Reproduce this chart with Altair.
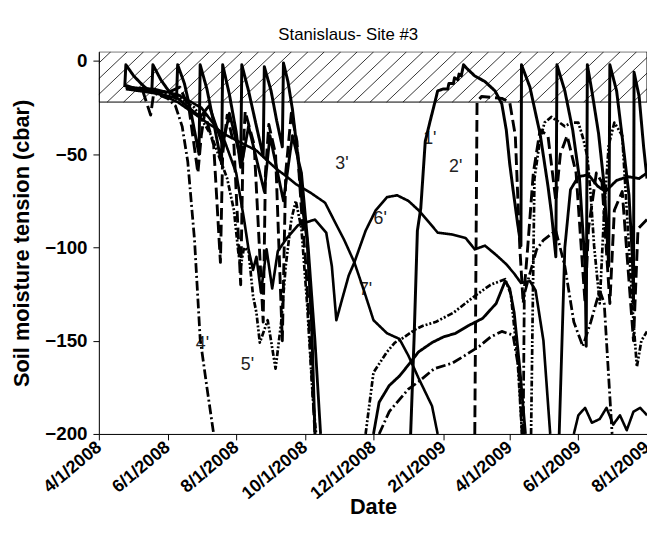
import altair as alt
import pandas as pd

# ---- series readings (date, cbar); None = gap in the record ----
s1 = [("2008-04-24",-14),("2008-04-25",-2),("2008-05-02",-8),("2008-05-10",-13),("2008-05-18",-17),
      ("2008-05-19",-2),("2008-05-26",-10),("2008-06-02",-16),("2008-06-09",-20),
      ("2008-06-10",-2),("2008-06-16",-12),("2008-06-22",-28),("2008-06-29",-50),
      ("2008-06-30",-2),("2008-07-06",-15),("2008-07-12",-33),("2008-07-19",-55),
      ("2008-07-20",-2),("2008-07-26",-18),("2008-08-01",-38),("2008-08-05",-57),
      ("2008-08-06",-2),("2008-08-12",-16),("2008-08-19",-35),("2008-08-25",-51),
      ("2008-08-26",-3),("2008-09-01",-16),("2008-09-06",-32),("2008-09-11",-46),
      ("2008-09-12",-1),("2008-09-16",-11),("2008-09-20",-26),("2008-09-25",-52),("2008-09-29",-79),
      ("2008-10-03",-96),("2008-10-07",-140),("2008-10-10",-200),
      None,
      ("2009-01-03",-200),("2009-01-06",-150),("2009-01-09",-91),("2009-01-12",-79),("2009-01-16",-43),
      ("2009-01-20",-33),("2009-01-25",-21),("2009-01-27",-16),("2009-02-01",-15),("2009-02-05",-15),
      ("2009-02-06",-12),("2009-02-10",-12),("2009-02-11",-9),("2009-02-14",-10),("2009-02-15",-7),
      ("2009-02-17",-8),("2009-02-19",-2),("2009-02-22",-4),("2009-03-01",-8),("2009-03-10",-11),
      ("2009-03-19",-16),("2009-03-25",-23),("2009-03-29",-37),("2009-04-01",-55),("2009-04-04",-69),
      ("2009-04-08",-87),("2009-04-11",-99),
      ("2009-04-11 12:00",-2),("2009-04-19",-14),("2009-04-24",-28),("2009-04-28",-39),("2009-05-01",-51),
      ("2009-05-05",-67),("2009-05-08",-81),("2009-05-12",-105),
      ("2009-05-13",-2),("2009-05-20",-16),("2009-05-27",-37),("2009-06-02",-63),("2009-06-07",-110),("2009-06-08",-153),
      ("2009-06-09",-2),("2009-06-13",-16),("2009-06-19",-39),("2009-06-24",-67),("2009-06-28",-110),
      ("2009-06-29",-2),("2009-07-05",-16),("2009-07-11",-46),("2009-07-16",-72),("2009-07-19",-105),("2009-07-20",-130),
      ("2009-07-20 12:00",-6),("2009-07-25",-19),("2009-07-29",-46),("2009-08-01",-63)]

s2 = [("2008-04-25",-13),("2008-05-10",-16),("2008-05-17",-29),("2008-05-20",-16),("2008-06-01",-17),
      ("2008-06-12",-14),("2008-06-20",-25),("2008-06-28",-60),("2008-07-01",-40),("2008-07-04",-28),
      ("2008-07-12",-45),("2008-07-18",-108),("2008-07-20",-50),("2008-07-24",-29),("2008-07-30",-45),
      ("2008-08-05",-120),("2008-08-07",-50),("2008-08-09",-27),("2008-08-17",-45),("2008-08-25",-140),
      ("2008-08-27",-60),("2008-08-30",-34),("2008-09-05",-50),("2008-09-11",-150),("2008-09-14",-60),
      ("2008-09-19",-28),("2008-09-24",-43),("2008-09-28",-80),("2008-10-02",-110),("2008-10-10",-200),
      None,
      ("2009-03-01",-200),("2009-03-03",-22),("2009-03-07",-19),("2009-03-25",-20),("2009-04-01",-22),
      ("2009-04-06",-40),("2009-04-10",-100),("2009-04-13",-130),("2009-04-17",-100),("2009-04-22",-60),
      ("2009-04-28",-37),("2009-05-05",-40),("2009-05-12",-75),("2009-05-16",-50),("2009-05-22",-40),
      ("2009-05-30",-60),("2009-06-07",-130),("2009-06-10",-90),("2009-06-17",-60),("2009-06-22",-65),
      ("2009-06-29",-130),("2009-07-03",-80),("2009-07-10",-70),("2009-07-20",-150),("2009-07-24",-90),
      ("2009-08-01",-85)]

s3 = [("2008-04-25",-15),("2008-05-19",-17),("2008-06-10",-20),("2008-06-30",-30),("2008-07-08",-24),
      ("2008-07-20",-45),("2008-07-26",-28),("2008-08-06",-55),("2008-08-12",-35),("2008-08-26",-70),
      ("2008-08-31",-40),("2008-09-12",-75),("2008-09-20",-40),("2008-09-28",-60),("2008-10-04",-100),
      ("2008-10-10",-150),("2008-10-15",-200),
      None,
      ("2008-12-01",-200),("2008-12-06",-183),("2008-12-15",-174),("2008-12-24",-169),("2009-01-01",-163),
      ("2009-01-10",-156),("2009-01-22",-151),("2009-02-01",-148),("2009-02-12",-146),("2009-02-23",-142),
      ("2009-03-08",-138),("2009-03-20",-130),("2009-03-28",-118),("2009-04-01",-122),("2009-04-05",-135),
      ("2009-04-10",-165),("2009-04-15",-200),
      None,
      ("2009-05-15",-200),("2009-05-20",-100),("2009-05-25",-69),("2009-06-01",-62),("2009-06-10",-61),
      ("2009-06-18",-67),("2009-06-25",-70),("2009-07-05",-64),("2009-07-15",-62),("2009-07-25",-63),
      ("2009-08-01",-60)]

s4 = [("2008-04-25",-14),("2008-05-15",-16),("2008-06-01",-20),("2008-06-08",-24),("2008-06-14",-35),
      ("2008-06-19",-54),("2008-06-25",-96),("2008-06-30",-149),("2008-07-06",-175),("2008-07-12",-200),
      None,
      ("2008-12-06",-200),("2008-12-15",-188),("2009-01-01",-176),("2009-01-10",-172),("2009-01-24",-165),
      ("2009-02-09",-162),("2009-02-20",-158),("2009-03-05",-153),("2009-03-15",-148),("2009-03-25",-145),
      ("2009-04-04",-147),("2009-04-09",-165),("2009-04-12",-200),
      None,
      ("2009-04-13",-200),("2009-04-14",-125),("2009-04-18",-116),("2009-04-25",-101),("2009-05-01",-96),
      ("2009-05-12",-91),("2009-05-20",-110),("2009-05-28",-140),("2009-06-05",-153),("2009-06-12",-140),
      ("2009-06-20",-123),("2009-06-24",-130),("2009-06-28",-170),("2009-07-01",-200)]

s5 = [("2008-04-25",-14),("2008-05-20",-16),("2008-06-10",-19),("2008-06-25",-25),("2008-07-10",-40),
      ("2008-07-24",-63),("2008-07-30",-80),("2008-08-03",-103),("2008-08-05",-110),("2008-08-08",-100),
      ("2008-08-12",-102),("2008-08-16",-126),("2008-08-19",-135),("2008-08-22",-151),("2008-08-29",-139),
      ("2008-09-05",-165),("2008-09-10",-140),("2008-09-14",-110),("2008-09-19",-85),("2008-09-23",-75),
      ("2008-09-28",-90),("2008-10-03",-130),("2008-10-08",-180),("2008-10-11",-200),
      None,
      ("2008-11-24",-200),("2008-12-01",-167),("2008-12-13",-156),("2008-12-20",-151),("2008-12-26",-149),
      ("2009-01-07",-144),("2009-01-14",-142),("2009-01-25",-140),("2009-02-10",-135),("2009-03-01",-126),
      ("2009-03-15",-120),("2009-03-28",-117),("2009-04-02",-125),("2009-04-08",-160),("2009-04-12",-200),
      None,
      ("2009-04-20",-200),("2009-04-23",-63),("2009-04-28",-42),("2009-05-02",-33),("2009-05-08",-30),
      ("2009-05-13",-32),("2009-05-20",-35),("2009-05-26",-33),("2009-06-01",-33),("2009-06-05",-41),
      ("2009-06-09",-51),("2009-06-12",-72),("2009-06-15",-99),("2009-06-20",-130),("2009-06-24",-80),
      ("2009-06-28",-45),("2009-07-03",-33),("2009-07-10",-40),("2009-07-15",-90),("2009-07-20",-140),
      ("2009-07-23",-164),("2009-07-27",-150),("2009-08-01",-145)]

s6 = [("2008-04-25",-14),("2008-05-20",-15),("2008-06-10",-18),("2008-07-01",-25),("2008-07-20",-40),
      ("2008-08-01",-60),("2008-08-08",-85),("2008-08-12",-101),("2008-08-16",-112),("2008-08-19",-105),
      ("2008-08-23",-124),("2008-08-28",-101),("2008-09-02",-122),("2008-09-07",-102),("2008-09-15",-95),
      ("2008-09-25",-88),("2008-10-10",-85),("2008-10-20",-92),("2008-10-25",-110),("2008-10-29",-139),
      ("2008-11-03",-128),("2008-11-09",-115),("2008-11-14",-108),("2008-11-24",-91),("2008-12-03",-80),
      ("2008-12-13",-73),("2008-12-22",-72),("2009-01-01",-75),("2009-01-10",-80),("2009-01-20",-87),
      ("2009-01-27",-92),("2009-02-09",-93),("2009-02-21",-95),("2009-03-01",-101),("2009-03-10",-99),
      ("2009-03-20",-104),("2009-03-29",-109),("2009-04-05",-114),("2009-04-11",-119),("2009-04-19",-118),
      ("2009-04-24",-123),("2009-05-01",-150),("2009-05-07",-200)]

s7 = [("2008-04-25",-14),("2008-05-19",-16),("2008-06-10",-22),("2008-07-06",-33),("2008-07-24",-40),
      ("2008-08-19",-48),("2008-08-28",-53),("2008-09-06",-58),("2008-09-15",-62),("2008-09-23",-66),
      ("2008-10-07",-71),("2008-10-19",-76),("2008-10-30",-89),("2008-11-05",-96),("2008-11-14",-108),
      ("2008-11-23",-124),("2008-12-01",-139),("2008-12-13",-146),("2008-12-24",-149),("2009-01-01",-158),
      ("2009-01-10",-170),("2009-01-22",-185),("2009-01-27",-200),
      None,
      ("2009-05-28",-200),("2009-06-01",-190),("2009-06-07",-186),("2009-06-13",-194),("2009-06-20",-192),
      ("2009-06-26",-186),("2009-07-02",-195),("2009-07-08",-190),("2009-07-14",-198),("2009-07-20",-188),
      ("2009-07-26",-186),("2009-08-01",-190)]

names = ["1'", "2'", "3'", "4'", "5'", "6'", "7'"]
series = [s1, s2, s3, s4, s5, s6, s7]

# in-plot depth labels
lab_text = ["1'", "2'", "3'", "4'", "5'", "6'", "7'"]
lab_date = ["2009-01-20", "2009-02-12", "2008-11-03", "2008-07-02", "2008-08-11", "2008-12-07", "2008-11-24"]
lab_val = [-42, -57, -55, -152, -163, -85, -123]

# hatched band (saturated zone)
band_lo, band_hi = -22, 5
x_start, x_end = "2008-04-01", "2009-08-01"

y_ticks = [0, -50, -100, -150, -200]
x_ticks = ["2008-04-01","2008-06-01","2008-08-01","2008-10-01","2008-12-01","2009-02-01","2009-04-01","2009-06-01","2009-08-01"]


def dt(s):
    t = pd.Timestamp(s)
    return alt.DateTime(year=t.year, month=t.month, date=t.day)


# ---- build tables ----
rows = []
for n, pts in zip(names, series):
    seg = 0
    for p in pts:
        if p is None:
            seg += 1
            continue
        rows.append({"series": n, "seg": f"{n}-{seg}", "date": pd.Timestamp(p[0]), "value": p[1]})
df = pd.DataFrame(rows)

hatch_rows = []
t0 = pd.Timestamp("2008-02-10")
k = 0
while True:
    a = t0 + pd.Timedelta(days=14.6 * k)
    if a > pd.Timestamp(x_end):
        break
    b = a + pd.Timedelta(days=47)
    hatch_rows.append({"x": a, "x2": b, "y": band_lo, "y2": band_hi})
    k += 1
hatch = pd.DataFrame(hatch_rows)

xs = alt.Scale(domain=[dt(x_start), dt(x_end)])
ys = alt.Scale(domain=[-200, band_hi], nice=False)

xaxis = alt.Axis(values=[dt(s) for s in x_ticks], format="%-m/%-d/%Y", labelAngle=-40, labelAlign="right",
                 labelBaseline="middle", labelOverlap=False, labelBound=False,
                 labelFont="Liberation Sans", labelFontWeight="bold", labelFontSize=18, labelColor="black",
                 tickSize=6, tickColor="black", domainColor="black", labelPadding=5, grid=False,
                 title="Date", titleFont="Liberation Sans", titleFontSize=22, titleFontWeight="bold", titleColor="black",
                 titleY=64, titleBaseline="top")
yaxis = alt.Axis(values=y_ticks, labelFont="Liberation Sans", labelFontWeight="bold", labelFontSize=19, labelColor="black",
                 tickSize=6, tickColor="black", domainColor="black", labelPadding=6, grid=False,
                 title="Soil moisture tension (cbar)", titleFont="Liberation Sans", titleFontSize=22,
                 titleFontWeight="bold", titleColor="black", titleX=-66)

hatch_layer = alt.Chart(hatch).mark_rule(color="black", strokeWidth=0.8, clip=True).encode(
    x=alt.X("x:T", scale=xs, axis=xaxis), x2="x2:T",
    y=alt.Y("y:Q", scale=ys, axis=yaxis), y2="y2:Q")

band = pd.DataFrame({"x": [pd.Timestamp(x_start)], "x2": [pd.Timestamp(x_end)], "y": [band_lo], "y2": [band_hi]})
band_layer = alt.Chart(band).mark_rect(fill=None, stroke="black", strokeWidth=1, clip=True).encode(
    x="x:T", x2="x2:T", y="y:Q", y2="y2:Q")

labels = pd.DataFrame({"t": lab_text, "date": [pd.Timestamp(d) for d in lab_date], "value": lab_val})
label_layer = alt.Chart(labels).mark_text(font="Liberation Sans", fontSize=18, color="#222", align="center",
                                          baseline="middle").encode(x="date:T", y="value:Q", text="t:N")

dash_map = alt.Scale(domain=names, range=[[1, 0], [12, 5], [1, 0], [10, 3, 2, 3], [6, 2, 2, 2, 2, 2], [1, 0], [1, 0]])
width_map = alt.Scale(domain=names, range=[3, 2.6, 2.4, 2.4, 2.4, 2.6, 2.6])
lines = alt.Chart(df).mark_line(color="black", clip=True, strokeCap="butt", strokeJoin="round").encode(
    x="date:T", y="value:Q", detail="seg:N",
    strokeDash=alt.StrokeDash("series:N", scale=dash_map, legend=None),
    strokeWidth=alt.StrokeWidth("series:N", scale=width_map, legend=None))

chart = alt.layer(hatch_layer, band_layer, label_layer, lines).properties(
    width=555, height=387,
    title=alt.TitleParams("Stanislaus- Site #3", font="Liberation Sans", fontSize=17, fontWeight="normal",
                          color="black", offset=8, dx=-25),
    autosize=alt.AutoSizeParams(type="none"),
    padding={"left": 92, "top": 41, "right": 0, "bottom": 96},
).configure_view(stroke=None).configure(background="white")

chart.save("out.html", embed_options={"renderer": "svg", "actions": False})
